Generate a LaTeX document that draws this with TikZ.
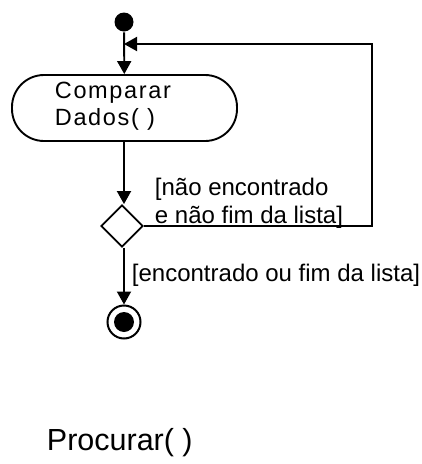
\documentclass[tikz,border=0pt]{standalone}
\usepackage{fontspec}
\setmainfont{Liberation Sans}
\usetikzlibrary{shapes.geometric,arrows.meta,positioning,calc}

\begin{document}
\begin{tikzpicture} [x=1pt, y=-1pt, line width=1.9pt,
        font=\fontsize{24}{28}\selectfont,
        >={Triangle[length=13pt, width=14pt]},
        inicio/.style={circle, fill, inner sep=0, minimum size=19pt},
        atividade/.style={draw, rounded corners=32pt, minimum width=225pt, minimum height=66pt},
        decisao/.style={diamond, draw, inner sep=0, minimum width=42pt, minimum height=42pt},
        guarda/.style={inner sep=0, align=left}]
        \useasboundingbox (0,0) rectangle (422,464);
        \node[inicio] (start) at (124,22) {};
        \node[atividade] (comparar) at (124.5,108) {};
        \node[guarda, anchor=north west, font=\addfontfeature{LetterSpace=7}\fontsize{23.5}{27}\selectfont] (comparartxt) at (54,81) {Comparar\\Dados( )};
        \node[decisao] (escolha) at (122,226) {};
        \node[draw, circle, line width=2pt, inner sep=0, minimum size=33pt] (fim) at (124,322) {};
        \node[inicio, minimum size=20pt] (fimponto) at (fim) {};
        \coordinate (juncao) at (124,44);
        \coordinate (canto) at (372,44);
        \draw[->] (start) -- (comparar);
        \draw[->] (comparar.south -| start) -- (escolha.north -| start);
        \draw[->] (escolha.east) -| (canto) -- (juncao);
        \draw[->] (escolha.south -| fim) -- (fim);
        \node[guarda, anchor=south west] (naoachou) at (154,229) {[não encontrado\\e não fim da lista]};
        \node[guarda, anchor=west] (achou) at (131,275) {[encontrado ou fim da lista]};
        \node[guarda, anchor=west, font=\fontsize{30.5}{34}\selectfont] (titulo) at (46,443) {Procurar( )};
\end{tikzpicture}
\end{document}
